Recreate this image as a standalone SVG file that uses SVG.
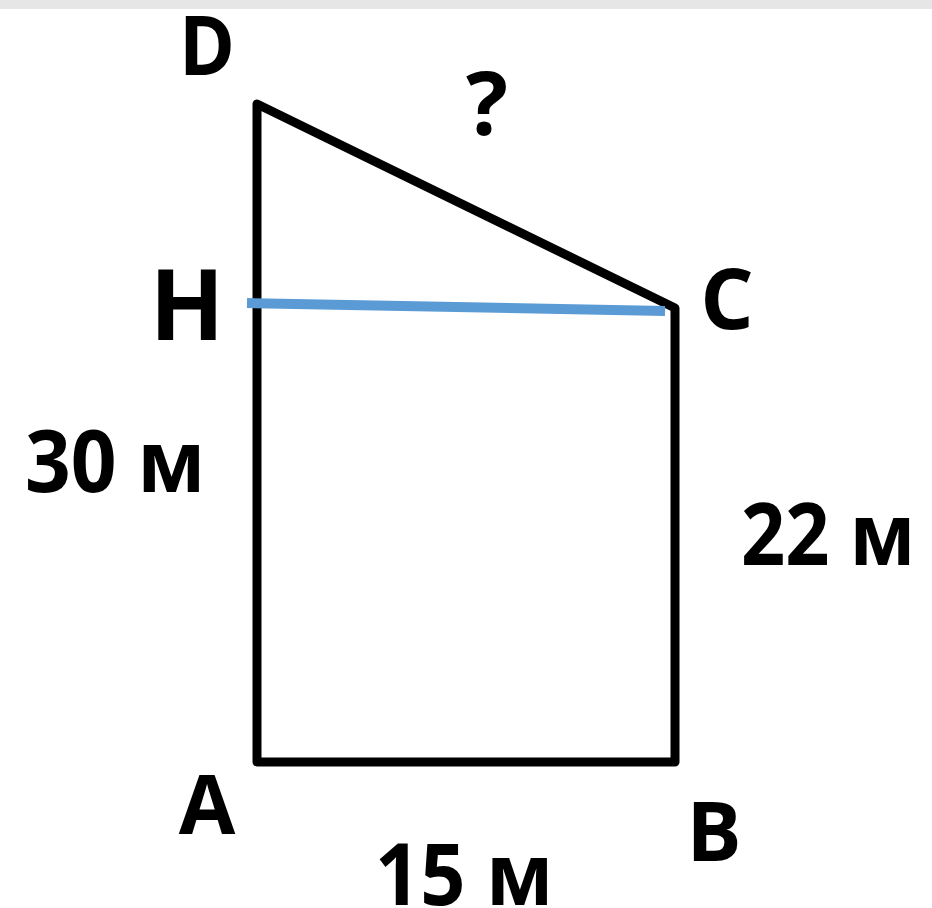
<svg xmlns="http://www.w3.org/2000/svg" width="932" height="908" viewBox="0 0 932 908">
<style>
.lbl{font-family:"Open Sans","Liberation Sans",sans-serif;font-weight:bold;fill:#000;text-anchor:middle}
.num{font-size:86px}
.edge{stroke:#000;stroke-width:9;fill:none;stroke-linejoin:round;stroke-linecap:round}
</style>
<rect width="932" height="908" fill="#fff"/>
<rect x="0" y="0" width="932" height="9" fill="#e6e6e6"/>
<g id="connectors">
<polyline class="edge" points="675,762 675,308 257,104 257,762 675,762"/>
<line x1="247" y1="303" x2="665" y2="311" stroke="#5b9bd5" stroke-width="10"/>
</g>
<g id="D"><text class="lbl" x="207" y="75" font-size="82" textLength="56" lengthAdjust="spacingAndGlyphs">D</text></g>
<g id="q"><text class="lbl" x="487" y="135" font-size="88">?</text></g>
<g id="H"><text class="lbl" x="187" y="340" font-size="98">H</text></g>
<g id="C"><text class="lbl" x="727" y="329" font-size="84">C</text></g>
<g id="l30"><text class="lbl num" x="115" y="492" textLength="180" lengthAdjust="spacingAndGlyphs">30 м</text></g>
<g id="l22"><text class="lbl num" x="828" y="565" textLength="174" lengthAdjust="spacingAndGlyphs">22 м</text></g>
<g id="A"><text class="lbl" x="207" y="834" font-size="82">A</text></g>
<g id="B"><text class="lbl" x="714" y="861" font-size="82">B</text></g>
<g id="l15"><text class="lbl num" x="464" y="905" textLength="178" lengthAdjust="spacingAndGlyphs">15 м</text></g>
</svg>
